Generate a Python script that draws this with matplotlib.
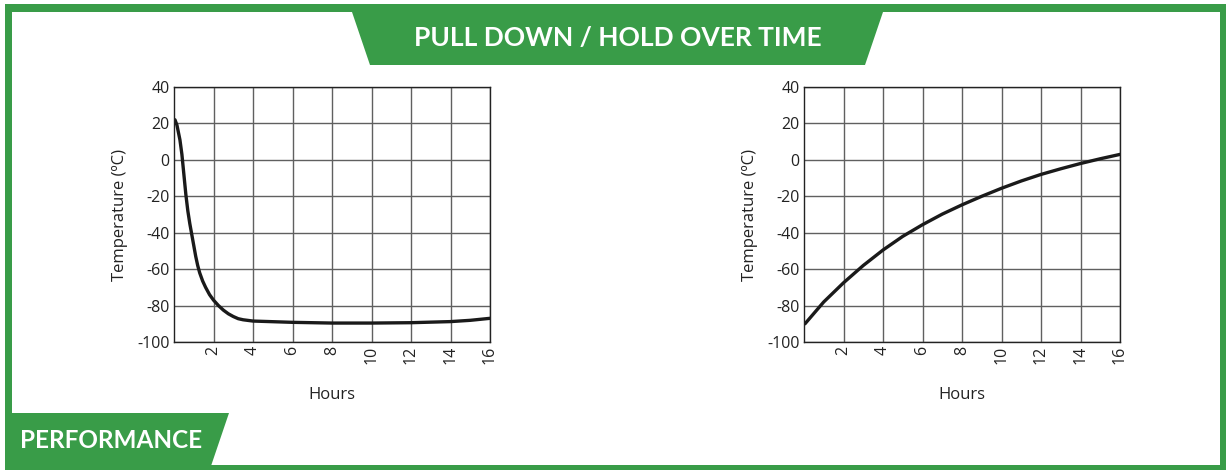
#pull down / hold over time charts
import numpy as np
import matplotlib.pyplot as plt
from matplotlib.patches import Polygon, Rectangle

plt.rcParams['axes.unicode_minus'] = False
plt.rcParams['font.family'] = ['Open Sans', 'DejaVu Sans']

green = '#399c48'

# pull down curve (left)
pullHours = [0.05, 0.15, 0.3, 0.4, 0.5, 0.6, 0.7, 0.8, 0.9, 1.0, 1.1, 1.2, 1.3, 1.45, 1.6, 1.8, 2.0, 2.25,
             2.5, 2.75, 3.0, 3.25, 3.5, 4, 6, 8, 10, 12, 14, 15, 16]
pullTemps = [22, 19, 11, 3, -8, -19, -28, -35, -41, -47, -53, -58, -62, -66.5, -70, -74, -77, -80,
             -82.5, -84.5, -86, -87.2, -87.8, -88.5, -89.2, -89.6, -89.6, -89.4, -88.8, -88.1, -87]

# hold over curve (right)
holdHours = [0.05, 1, 2, 3, 4, 5, 6, 7, 8, 9, 10, 11, 12, 13, 14, 15, 16]
holdTemps = [-90, -78, -67.5, -58, -49.5, -42, -35.6, -29.8, -24.7, -20, -15.6, -11.6, -8, -4.9, -2, 0.6, 3]

xTicks = [2, 4, 6, 8, 10, 12, 14, 16]
yTicks = [40, 20, 0, -20, -40, -60, -80, -100]

W, H = 1226, 470
fig = plt.figure(figsize=(W / 100, H / 100), dpi=100)
bg = fig.add_axes([0, 0, 1, 1])
bg.set_xlim(0, W)
bg.set_ylim(H, 0)
bg.axis('off')

# green frame
bg.add_patch(Rectangle((5, 4), W - 5, 8, color=green, lw=0))
bg.add_patch(Rectangle((5, 4), 7, H - 4, color=green, lw=0))
bg.add_patch(Rectangle((1220, 4), 6, H - 4, color=green, lw=0))
bg.add_patch(Rectangle((5, 465), W - 5, 5, color=green, lw=0))

# title banner
bg.add_patch(Polygon([(352, 12), (883, 12), (865, 65), (370, 65)], closed=True, color=green, lw=0))
bg.text(618, 38, 'PULL DOWN / HOLD OVER TIME', color='white', fontsize=19, fontweight='bold',
        family='Lato', ha='center', va='center')

# performance label
bg.add_patch(Polygon([(5, 413), (229, 413), (211, 466), (5, 466)], closed=True, color=green, lw=0))
bg.text(111, 440, 'PERFORMANCE', color='white', fontsize=17.5, fontweight='bold',
        family='Lato', ha='center', va='center')


def makeChart(left, hours, temps):
    ax = fig.add_axes([left / W, 1 - 342 / H, 316 / W, 255 / H])
    ax.plot(hours, temps, color='#1a1a1a', lw=2.4, solid_capstyle='round', solid_joinstyle='round')
    ax.set_xlim(0, 16)
    ax.set_ylim(-100, 40)
    ax.set_xticks(xTicks)
    ax.set_yticks(yTicks)
    ax.set_xticklabels([str(t) for t in xTicks], rotation=90)
    ax.grid(True, color='#606060', lw=1)
    ax.tick_params(length=0, labelsize=11.5, colors='#222222', pad=3)
    for s in ax.spines.values():
        s.set_color('#222222')
        s.set_linewidth(1)
    ax.set_xlabel('Hours', fontsize=12, color='#222222', labelpad=16)
    ax.set_ylabel('Temperature (ºC)', fontsize=12, color='#222222', labelpad=7)
    return ax


makeChart(174, pullHours, pullTemps)
makeChart(804, holdHours, holdTemps)

plt.savefig('out.png', dpi=100)
